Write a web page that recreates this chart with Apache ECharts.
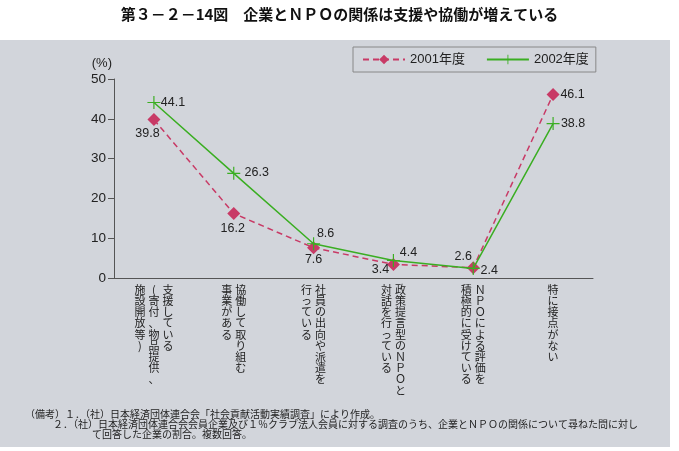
<!DOCTYPE html>
<html>
<head>
<meta charset="utf-8">
<script src="https://cdn.jsdelivr.net/npm/echarts@6/dist/echarts.min.js"></script>
<style>html,body{margin:0;padding:0;background:#fff}#c{width:679px;height:451px}</style>
</head>
<body>
<div id="c"></div>
<script>
// Category labels: '|' separates vertical columns (first column is rightmost)
const categories = [
  '支援している|(寄付、物品提供、|施設開放等)',
  '協働して取り組む|事業がある',
  '社員の出向や派遣を|行っている',
  '政策提言型のＮＰＯと|対話を行っている',
  'ＮＰＯによる評価を|積極的に受けている',
  '特に接点がない'
];
const seriesNames = ['2001年度', '2002年度'];
const values2001 = [39.8, 16.2, 7.6, 3.4, 2.6, 46.1];
const values2002 = [44.1, 26.3, 8.6, 4.4, 2.4, 38.8];
const yTicks = [0, 10, 20, 30, 40, 50];
const titleText = '第３－２－14図　企業とＮＰＯの関係は支援や協働が増えている';
const noteLines = [
  '（備考）１．（社）日本経済団体連合会「社会貢献活動実績調査」により作成。',
  '２．（社）日本経済団体連合会会員企業及び１％クラブ法人会員に対する調査のうち、企業とＮＰＯの関係について尋ねた問に対し',
  'て回答した企業の割合。複数回答。'
];

// label placement (style only)
const off2001 = [[-6.5,13.5],[-1,15.5],[0,12],[-13,5.5],[-10,-11],[19.5,0]];
const off2002 = [[19,0],[23,-1],[12,-10],[15,-7.5],[16,2],[20,0]];

function vertical(s) {
  const cols = s.split('|').map(c => Array.from(c));
  const n = Math.max(...cols.map(c => c.length));
  const lines = [];
  for (let i = 0; i < n; i++) {
    lines.push(cols.slice().reverse().map(c => '{c|' + (c[i] || '\u3000') + '}').join(''));
  }
  return lines.join('\n');
}

const chart = echarts.init(document.getElementById('c'));
const numFont = '"Liberation Sans", Arial, "Noto Sans CJK JP", sans-serif';
const jpFont = '"Noto Sans CJK JP", sans-serif';
const plusPath = 'path://M9.1,0h1.8v9.1h9.1v1.8h-9.1v9.1h-1.8v-9.1h-9.1v-1.8h9.1z';

chart.setOption({
  animation: false,
  backgroundColor: '#ffffff',
  graphic: [
    { type: 'rect', left: 0, top: 40, shape: { width: 670, height: 407 }, style: { fill: '#d2d5db' }, z: -10 },
    { type: 'text', left: 'center', top: 7, style: { text: titleText, font: 'bold 15px ' + jpFont, fill: '#111' } },
    { type: 'text', left: 25, top: 409, style: { text: noteLines[0], font: '10px ' + jpFont, fill: '#222' } },
    { type: 'text', left: 53, top: 419, style: { text: noteLines[1], font: '10px ' + jpFont, fill: '#222' } },
    { type: 'text', left: 92, top: 429, style: { text: noteLines[2], font: '10px ' + jpFont, fill: '#222' } }
  ],
  legend: {
    left: 353, top: 47,
    padding: [6, 7, 6, 9],
    itemGap: 21, itemWidth: 42, itemHeight: 12,
    borderColor: '#888', borderWidth: 1,
    textStyle: { fontSize: 13, color: '#222', fontFamily: numFont },
    data: seriesNames
  },
  grid: { left: 114, right: 86, top: 79, bottom: 173 },
  xAxis: {
    type: 'category',
    data: categories,
    boundaryGap: true,
    axisLine: { lineStyle: { color: '#555', width: 1 } },
    axisTick: { inside: true, length: 5, lineStyle: { color: '#555' } },
    axisLabel: {
      interval: 0, margin: 6, align: 'center', verticalAlign: 'top',
      formatter: v => vertical(v),
      rich: { c: { width: 14, height: 11.2, align: 'center', verticalAlign: 'middle', fontSize: 11, lineHeight: 11.2, fontFamily: jpFont, color: '#222' } }
    }
  },
  yAxis: {
    type: 'value', min: yTicks[0], max: yTicks[yTicks.length - 1], interval: 10,
    name: '(%)', nameLocation: 'end', nameGap: 9,
    nameTextStyle: { align: 'right', padding: [0, 2, 0, 0], fontSize: 13, color: '#222', fontFamily: numFont },
    splitLine: { show: false },
    axisLine: { show: true, lineStyle: { color: '#555', width: 1 } },
    axisTick: { show: true, length: 6, lineStyle: { color: '#555' } },
    axisLabel: { margin: 8, fontSize: 13.5, color: '#222', fontFamily: numFont }
  },
  series: [
    {
      name: seriesNames[0], type: 'line',
      symbol: 'diamond', symbolSize: 13,
      itemStyle: { color: '#c83a66' },
      lineStyle: { color: '#c83a66', width: 1.5, type: [6, 4] },
      label: { show: true, position: 'inside', fontSize: 12.5, color: '#222', fontFamily: numFont },
      data: values2001.map((v, i) => ({ value: v, label: { offset: off2001[i] } })),
      z: 2
    },
    {
      name: seriesNames[1], type: 'line',
      symbol: plusPath, symbolSize: 13,
      itemStyle: { color: '#3aae22' },
      lineStyle: { color: '#3aae22', width: 1.5 },
      label: { show: true, position: 'inside', fontSize: 12.5, color: '#222', fontFamily: numFont },
      data: values2002.map((v, i) => ({ value: v, label: { offset: off2002[i] } })),
      z: 3
    }
  ]
});
</script>
</body>
</html>
